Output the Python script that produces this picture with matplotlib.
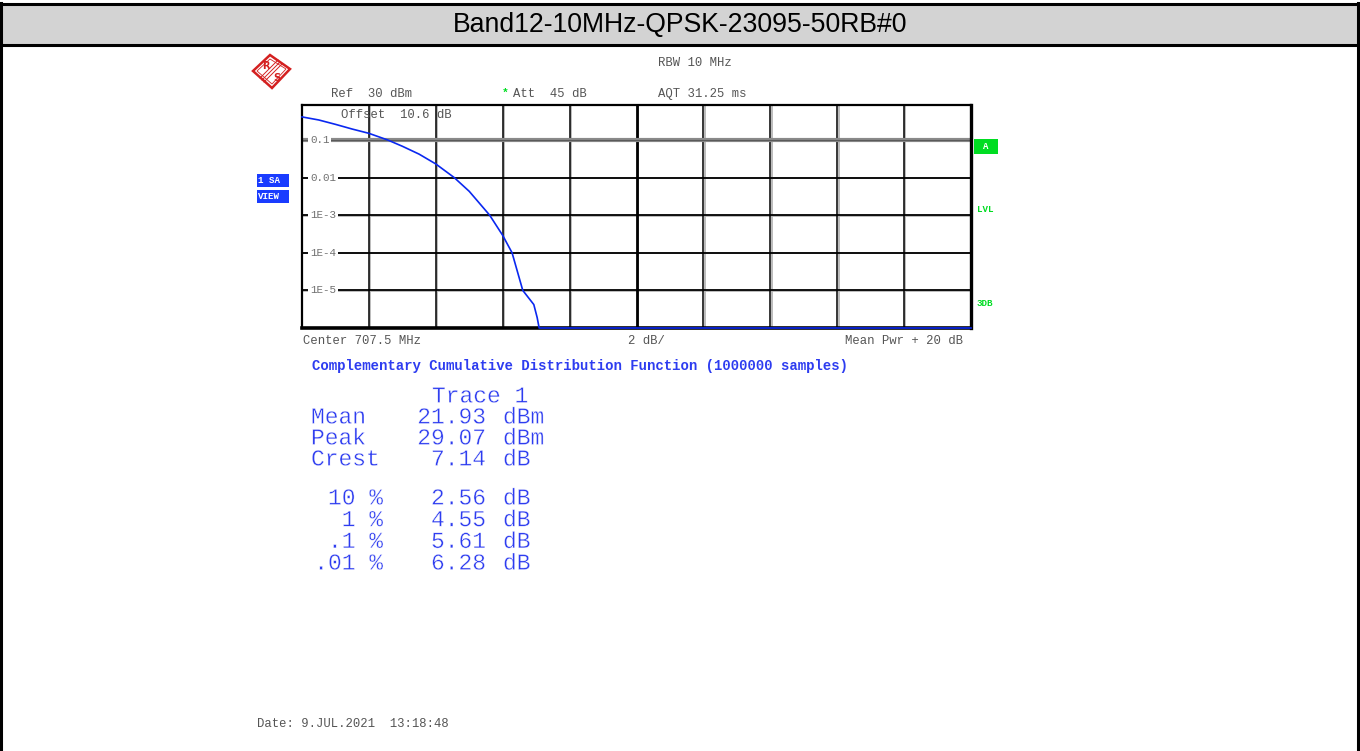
import numpy as np
import matplotlib.pyplot as plt
from matplotlib.patches import Polygon, Rectangle
from matplotlib import patheffects as pe

W, H = 1360, 751
TITLE = "Band12-10MHz-QPSK-23095-50RB#0"

# CCDF trace (x: dB above mean power, y: probability)
ccdf_db = [0, 0.5, 1, 1.5, 2, 2.56, 3, 3.5, 4, 4.55, 5, 5.61, 6, 6.28, 6.6, 6.93, 7.03, 7.09, 20]
ccdf_p = [0.41, 0.34, 0.26, 0.195, 0.15, 0.1, 0.068, 0.042, 0.023, 0.01, 0.0043, 1e-3,
          2.9e-4, 1e-4, 1e-5, 4.2e-6, 1.9e-6, 1e-6, 1e-6]

grid_db = [2, 4, 6, 8, 10, 12, 14, 16, 18]
grid_p = [1e-1, 1e-2, 1e-3, 1e-4, 1e-5]
grid_lbl = ["0.1", "0.01", "1E-3", "1E-4", "1E-5"]

stat_names = ["Mean", "Peak", "Crest"]
stat_vals = [21.93, 29.07, 7.14]
stat_units = ["dBm", "dBm", "dB"]
pct_names = ["10", "1", ".1", ".01"]
pct_vals = [2.56, 4.55, 5.61, 6.28]

MONO = "Liberation Mono"
GRAYTXT = "#555555"
BLUE = "#2d3cf0"
GREEN = "#00dd22"
# light erosion so the mono font looks closer to the thin screen font
THIN = [pe.Normal(), pe.PathPatchEffect(facecolor="none", edgecolor="white", linewidth=0.3)]

fig = plt.figure(figsize=(W / 100, H / 100), dpi=100)

# ---- main CCDF plot ----
ax = fig.add_axes([302 / W, 1 - 328 / H, 669 / W, (328 - 105) / H])
ax.set_yscale("log")
ax.set_xlim(0, 20)
ax.set_ylim(1e-6, 0.85)
ax.set_xticks([])
ax.set_yticks([])
ax.minorticks_off()
for s in ax.spines.values():
    s.set_linewidth(1.6)
    s.set_color("black")
ax.spines["bottom"].set_linewidth(2.6)
ax.spines["right"].set_linewidth(2.4)

for d in grid_db:
    ax.axvline(d + 0.04, color="#b0b0b0", lw=1.2, zorder=1)
    ax.axvline(d, color="black", lw=2.0 if d == 10 else 1.1, zorder=2)
for p in grid_p:
    if p == 0.1:
        ax.axhline(p, color="#8a8a8a", lw=3.0, zorder=2)
        ax.axhline(p, color="#5a5a5a", lw=0.8, zorder=2)
    else:
        ax.axhline(p * 0.96, color="#b0b0b0", lw=1.2, zorder=1)
        ax.axhline(p, color="black", lw=1.3, zorder=2)

yt = ax.get_yaxis_transform()
for p, lbl in zip(grid_p, grid_lbl):
    ax.text(0.012, p, lbl, transform=yt, fontsize=7.8, family=MONO, color="#707070",
            va="center", ha="left", zorder=4,
            bbox=dict(boxstyle="square,pad=0.15", fc="white", ec="none"))

ax.plot(ccdf_db, ccdf_p, color="#0a28f0", lw=1.2, zorder=5, clip_on=False)

# ---- overlay in pixel coordinates for the instrument screen text ----
ov = fig.add_axes([0, 0, 1, 1])
ov.set_xlim(0, W)
ov.set_ylim(H, 0)
ov.axis("off")
ov.patch.set_alpha(0)

# title band and border
ov.add_patch(Rectangle((2, 4), W - 5, 40, fc="#d3d3d3", ec="none"))
ov.plot([1, W - 2], [4, 4], color="black", lw=2.2)
ov.plot([1, W - 2], [44.5, 44.5], color="black", lw=2.2)
ov.plot([1.2, 1.2], [3, H], color="black", lw=2.2)
ov.plot([W - 2.2, W - 2.2], [3, H], color="black", lw=2.2)
ov.text(680, 25, TITLE, fontsize=19.2, family="Liberation Sans", ha="center", va="center")

# R&S logo
cx, cy = 271, 71
red = "#d42020"
ov.add_patch(Polygon([(cx - 18, cy), (cx - 1, cy - 16), (cx + 19, cy - 2), (cx + 1, cy + 17)],
                     closed=True, fc="white", ec=red, lw=1.8))
ov.add_patch(Polygon([(cx - 14, cy), (cx - 1, cy - 12), (cx + 15, cy - 2), (cx + 1, cy + 13)],
                     closed=True, fc="none", ec=red, lw=0.6))
for k in (-2, 0, 2):
    ov.plot([cx + 9 + k, cx - 9 + k], [cy - 9 + k, cy + 9 + k], color=red, lw=0.7)
ov.text(cx - 5, cy - 5, "R", fontsize=7, color=red, weight="bold", ha="center", va="center")
ov.text(cx + 6, cy + 7, "S", fontsize=7, color=red, weight="bold", ha="center", va="center")

hdr = dict(fontsize=8.8, family=MONO, color=GRAYTXT, va="center", ha="left")
ov.text(658, 63, "RBW 10 MHz", **hdr)
ov.text(331, 94, "Ref  30 dBm", **hdr)
ov.text(513, 94, "Att  45 dB", **hdr)
ov.text(505, 93, "*", fontsize=8, family=MONO, color=GREEN, ha="center", va="center", weight="bold")
ov.text(658, 94, "AQT 31.25 ms", **hdr)
ov.text(341, 115, "Offset  10.6 dB", **hdr)
ov.text(303, 341, "Center 707.5 MHz", **hdr)
ov.text(628, 341, "2 dB/", **hdr)
ov.text(963, 341, "Mean Pwr + 20 dB", **dict(hdr, ha="right"))
ov.text(257, 724, "Date: 9.JUL.2021  13:18:48", **hdr)

# side boxes
for y0, lbl in [(174, "1 SA"), (190, "VIEW")]:
    ov.add_patch(Rectangle((257, y0), 32, 13, fc="#1a3cff", ec="none"))
    ov.text(258, y0 + 6.5, lbl, fontsize=6.6, family=MONO, weight="bold", color="white",
            va="center", ha="left")
ov.add_patch(Rectangle((974, 139), 24, 15, fc=GREEN, ec="none"))
ov.text(986, 146.5, "A", fontsize=6.5, family=MONO, weight="bold", color="white", ha="center", va="center")
ov.text(977, 209, "LVL", fontsize=6.6, family=MONO, weight="bold", color=GREEN, va="center")
ov.text(977, 304, "3DB", fontsize=6.6, family=MONO, weight="bold", color=GREEN, va="center")

# CCDF result table
ov.text(312, 366, "Complementary Cumulative Distribution Function (1000000 samples)",
        fontsize=10.1, family=MONO, weight="bold", color=BLUE, va="center", ha="left")
tbl = dict(fontsize=16.5, family=MONO, color=BLUE, va="center", path_effects=THIN)
ov.text(432, 396, "Trace 1", ha="left", **tbl)
for i, (n, v, u) in enumerate(zip(stat_names, stat_vals, stat_units)):
    y = 417 + 21 * i
    ov.text(311, y, n, ha="left", **tbl)
    ov.text(486, y, f"{v:.2f}", ha="right", **tbl)
    ov.text(503, y, u, ha="left", **tbl)
for i, (n, v) in enumerate(zip(pct_names, pct_vals)):
    y = 498 + 21.7 * i
    ov.text(383, y, f"{n} %", ha="right", **tbl)
    ov.text(486, y, f"{v:.2f}", ha="right", **tbl)
    ov.text(503, y, "dB", ha="left", **tbl)

fig.savefig("out.png", dpi=100)
